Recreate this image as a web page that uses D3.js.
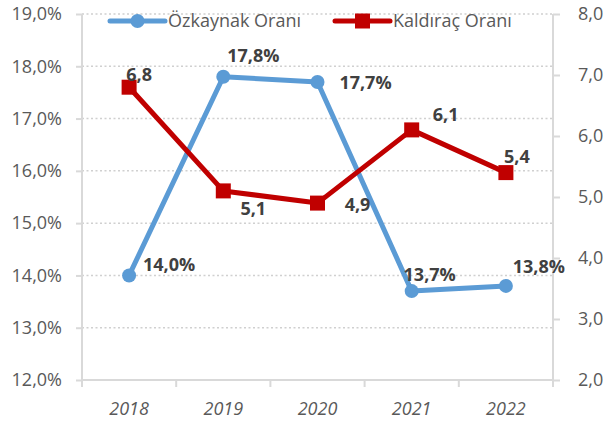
<!DOCTYPE html>
<html><head><meta charset="utf-8">
<script src="https://cdn.jsdelivr.net/npm/d3@7"></script>
<style>body{margin:0;background:#fff}svg{display:block}</style>
</head><body>
<script>
const categories = ["2018","2019","2020","2021","2022"];
const ozkaynak = [14.0, 17.8, 17.7, 13.7, 13.8];
const kaldirac = [6.8, 5.1, 4.9, 6.1, 5.4];
const leftTicks = [12,13,14,15,16,17,18,19];
const rightTicks = [2,3,4,5,6,7,8];
const seriesNames = ["Özkaynak Oranı","Kaldıraç Oranı"];

const W = 606, H = 425;
const m = {l:82, r:53, t:14, b:45};
const font = "'Open Sans', sans-serif";
const svg = d3.select("body").append("svg").attr("width",W).attr("height",H);

const x = d3.scaleBand().domain(categories).range([m.l, W-m.r]);
const yL = d3.scaleLinear().domain([12,19]).range([H-m.b, m.t]);
const yR = d3.scaleLinear().domain([2,8]).range([H-m.b, m.t]);
const fmt = v => d3.format(".1f")(v).replace(".", ",");

// gridlines
svg.append("g").selectAll("line").data(leftTicks).join("line")
  .attr("x1", m.l).attr("x2", W-m.r)
  .attr("y1", d=>yL(d)).attr("y2", d=>yL(d))
  .attr("stroke","#d0d0d0").attr("stroke-width",1.5).attr("stroke-dasharray","2,2.5");

// left axis
const gL = svg.append("g").attr("transform",`translate(${m.l},0)`)
  .call(d3.axisLeft(yL).tickValues(leftTicks).tickFormat(d=>fmt(d)+"%").tickSize(6).tickPadding(14));
// right axis
const gR = svg.append("g").attr("transform",`translate(${W-m.r},0)`)
  .call(d3.axisRight(yR).tickValues(rightTicks).tickFormat(d=>fmt(d)).tickSize(7).tickPadding(18));
// bottom axis
const gB = svg.append("g").attr("transform",`translate(0,${H-m.b})`)
  .call(d3.axisBottom(x).tickSize(0).tickPadding(22));
// bottom ticks at band boundaries
const bounds = categories.map(c=>x(c)).concat([x(categories[categories.length-1])+x.bandwidth()]);
svg.append("g").selectAll("line").data(bounds).join("line")
  .attr("x1",d=>d).attr("x2",d=>d)
  .attr("y1",H-m.b).attr("y2",H-m.b+7).attr("stroke","#d9d9d9").attr("stroke-width",2);

[gL,gR,gB].forEach(g=>{
  g.selectAll(".domain").attr("stroke","#d9d9d9").attr("stroke-width",2);
  g.selectAll(".tick line").attr("stroke","#d9d9d9").attr("stroke-width",2);
  g.selectAll("text").attr("fill","#595959").style("font-family",font).style("font-size","18px");
});
gL.select(".domain").attr("d",`M0,${m.t}V${H-m.b}`);
gR.select(".domain").attr("d",`M0,${m.t}V${H-m.b}`);
gB.select(".domain").attr("d",`M${m.l},0H${W-m.r}`);
gB.selectAll("text").style("font-style","italic");

const cx = d => x(d)+x.bandwidth()/2;
const blue = "#5B9BD5", red = "#C00000";

// blue line
svg.append("path").datum(ozkaynak)
  .attr("d", d3.line().x((d,i)=>cx(categories[i])).y(d=>yL(d)))
  .attr("fill","none").attr("stroke",blue).attr("stroke-width",5).attr("stroke-linejoin","round");
svg.append("g").selectAll("circle").data(ozkaynak).join("circle")
  .attr("cx",(d,i)=>cx(categories[i])).attr("cy",d=>yL(d)).attr("r",7).attr("fill",blue);

// red line
svg.append("path").datum(kaldirac)
  .attr("d", d3.line().x((d,i)=>cx(categories[i])).y(d=>yR(d)))
  .attr("fill","none").attr("stroke",red).attr("stroke-width",5).attr("stroke-linejoin","round");
svg.append("g").selectAll("rect").data(kaldirac).join("rect")
  .attr("x",(d,i)=>cx(categories[i])-7.5).attr("y",d=>yR(d)-7.5)
  .attr("width",15).attr("height",15).attr("fill",red);

// data labels (offsets of label centre relative to points)
const blueOff = [[40,-11],[30,-21],[48,1],[18,-17],[33,-19]];
const redOff = [[10,-13],[30,18],[40,1],[34,-15],[11,-16]];
svg.append("g").selectAll("text").data(ozkaynak).join("text")
  .attr("x",(d,i)=>cx(categories[i])+blueOff[i][0]).attr("y",(d,i)=>yL(d)+blueOff[i][1])
  .attr("text-anchor","middle").attr("dy","0.36em")
  .text(d=>fmt(d)+"%").attr("fill","#404040").style("font-family",font)
  .style("font-size","18px").style("font-weight","bold");
svg.append("g").selectAll("text").data(kaldirac).join("text")
  .attr("x",(d,i)=>cx(categories[i])+redOff[i][0]).attr("y",(d,i)=>yR(d)+redOff[i][1])
  .attr("text-anchor","middle").attr("dy","0.36em")
  .text(d=>fmt(d)).attr("fill","#404040").style("font-family",font)
  .style("font-size","18px").style("font-weight","bold");

// legend
const leg = [{name:seriesNames[0],color:blue,shape:"circle",x:110},{name:seriesNames[1],color:red,shape:"square",x:335}];
const lg = svg.append("g").selectAll("g").data(leg).join("g").attr("transform",d=>`translate(${d.x},21)`);
lg.append("line").attr("x1",0).attr("x2",55).attr("stroke",d=>d.color).attr("stroke-width",5).attr("stroke-linecap","round");
lg.filter(d=>d.shape==="circle").append("circle").attr("cx",27.5).attr("r",7).attr("fill",d=>d.color);
lg.filter(d=>d.shape==="square").append("rect").attr("x",20).attr("y",-7.5).attr("width",15).attr("height",15).attr("fill",d=>d.color);
lg.append("text").attr("x",58).attr("dy","0.35em").text(d=>d.name)
  .attr("fill","#595959").style("font-family",font).style("font-size","18px");
</script>
</body></html>
